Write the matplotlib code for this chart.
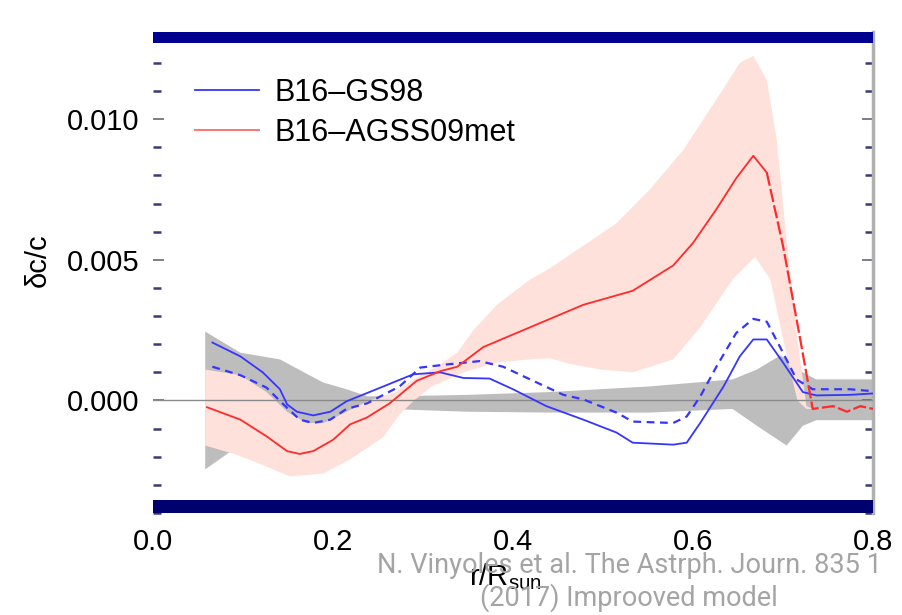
import numpy as np
import matplotlib
matplotlib.use("Agg")
import matplotlib.pyplot as plt
from matplotlib.ticker import MultipleLocator, FixedLocator

plt.rcParams['font.family'] = ['Liberation Sans', 'DejaVu Sans']
plt.rcParams['mathtext.fontset'] = 'custom'
plt.rcParams['mathtext.rm'] = 'Liberation Sans'
plt.rcParams['mathtext.it'] = 'Liberation Sans:italic'

# ---- data ----
gs98_x = [0.066, 0.097, 0.122, 0.141, 0.149, 0.160, 0.178, 0.197, 0.215, 0.256, 0.289, 0.319,
          0.345, 0.374, 0.400, 0.437, 0.478, 0.515, 0.533, 0.578, 0.593, 0.608, 0.634, 0.652,
          0.667, 0.682, 0.700, 0.722, 0.737, 0.774, 0.800]
gs98_y = [0.00206, 0.00157, 0.00100, 0.00040, -0.00014, -0.00040, -0.00053, -0.00040, -0.00003,
          0.00050, 0.00093, 0.00100, 0.00080, 0.00078, 0.00040, -0.00020, -0.00068, -0.00114,
          -0.00150, -0.00157, -0.00150, -0.00080, 0.00050, 0.00157, 0.00217, 0.00217, 0.00135,
          0.00030, 0.00018, 0.00020, 0.00025]

gs98b_x = [0.066, 0.097, 0.126, 0.145, 0.163, 0.178, 0.197, 0.215, 0.238, 0.274, 0.297, 0.326,
           0.363, 0.389, 0.419, 0.456, 0.478, 0.515, 0.533, 0.578, 0.593, 0.608, 0.626, 0.648,
           0.667, 0.682, 0.700, 0.715, 0.733, 0.774, 0.800]
gs98b_y = [0.00120, 0.00090, 0.00046, -0.00014, -0.00068, -0.00080, -0.00068, -0.00030, -0.00010,
           0.00050, 0.00117, 0.00128, 0.00140, 0.00120, 0.00075, 0.00020, 0.00004, -0.00043,
           -0.00075, -0.00080, -0.00057, 0.00014, 0.00120, 0.00240, 0.00290, 0.00280, 0.00170,
           0.00075, 0.00040, 0.00040, 0.00033]

agss_x = [0.060, 0.097, 0.126, 0.149, 0.163, 0.178, 0.200, 0.219, 0.238, 0.263, 0.293, 0.319,
          0.338, 0.367, 0.404, 0.441, 0.478, 0.500, 0.533, 0.578, 0.600, 0.626, 0.648, 0.667, 0.682]
agss_y = [-0.00024, -0.00068, -0.00127, -0.00180, -0.00190, -0.00180, -0.00140, -0.00085, -0.00060,
          -0.00010, 0.00070, 0.00104, 0.00120, 0.00190, 0.00240, 0.00290, 0.00340, 0.00360,
          0.00390, 0.00480, 0.00560, 0.00680, 0.00790, 0.00870, 0.00810]
agss_tail_x = [0.682, 0.700, 0.719, 0.733, 0.756, 0.771, 0.786, 0.800]
agss_tail_y = [0.00810, 0.00550, 0.00220, -0.00030, -0.00020, -0.00040, -0.00020, -0.00030]

pink_up_x = [0.058, 0.097, 0.126, 0.149, 0.170, 0.190, 0.215, 0.240, 0.270, 0.289, 0.315, 0.338,
             0.356, 0.382, 0.419, 0.441, 0.478, 0.515, 0.552, 0.589, 0.626, 0.652, 0.667, 0.682,
             0.693, 0.704, 0.716, 0.726, 0.733]
pink_up_y = [0.00110, 0.00090, 0.00030, -0.00040, -0.00080, -0.00080, -0.00040, 0.00000, 0.00030,
             0.00075, 0.00120, 0.00170, 0.00250, 0.00340, 0.00430, 0.00470, 0.00550, 0.00630,
             0.00750, 0.00890, 0.01070, 0.01200, 0.01225, 0.01140, 0.00930, 0.00570, 0.00220,
             -0.00020, -0.00030]
pink_lo_x = [0.058, 0.090, 0.115, 0.152, 0.189, 0.219, 0.256, 0.274, 0.290, 0.310, 0.345, 0.382,
             0.419, 0.441, 0.463, 0.497, 0.533, 0.578, 0.608, 0.644, 0.669, 0.686, 0.700, 0.716,
             0.726, 0.733]
pink_lo_y = [-0.00160, -0.00190, -0.00220, -0.00270, -0.00260, -0.00210, -0.00130, -0.00050, 0.00000,
             0.00050, 0.00100, 0.00135, 0.00146, 0.00150, 0.00130, 0.00110, 0.00100, 0.00146,
             0.00260, 0.00430, 0.00510, 0.00430, 0.00220, 0.00000, -0.00030, -0.00030]

gray_up_x = [0.058, 0.097, 0.141, 0.189, 0.215, 0.238, 0.270, 0.350, 0.441, 0.552, 0.644, 0.671,
             0.697, 0.708, 0.722, 0.737, 0.800]
gray_up_y = [0.00245, 0.00170, 0.00146, 0.00064, 0.00040, 0.00015, 0.00015, 0.00020, 0.00030,
             0.00050, 0.00075, 0.00110, 0.00160, 0.00140, 0.00100, 0.00075, 0.00075]
gray_lo_x = [0.058, 0.089, 0.120, 0.152, 0.180, 0.220, 0.260, 0.350, 0.441, 0.552, 0.644, 0.671,
             0.704, 0.722, 0.737, 0.800]
gray_lo_y = [-0.00245, -0.00175, -0.00120, -0.00090, -0.00090, -0.00050, -0.00030, -0.00040,
             -0.00043, -0.00043, -0.00030, -0.00090, -0.00160, -0.00090, -0.00070, -0.00070]

labels = ["B16\u2013GS98", "B16\u2013AGSS09met"]
xticks = [0.0, 0.2, 0.4, 0.6, 0.8]
yticks = [0.000, 0.005, 0.010]

# ---- figure ----
fig = plt.figure(figsize=(9.02, 6.15), dpi=100)
ax = fig.add_axes([153/902, 1-513/615, 720/902, 481/615])
ax.set_xlim(0.0, 0.8)
ax.set_ylim(-0.004, 0.0131)

ax.fill(np.concatenate([gray_up_x, gray_lo_x[::-1]]),
        np.concatenate([gray_up_y, gray_lo_y[::-1]]),
        color='#bdbdbd', lw=0, zorder=1)
ax.fill(np.concatenate([pink_up_x, pink_lo_x[::-1]]),
        np.concatenate([pink_up_y, pink_lo_y[::-1]]),
        color='#ffe1dc', lw=0, zorder=2)
ax.axhline(0.0, color='#8a8a8a', lw=1.0, zorder=3)

blue = '#3535ff'
red = '#ff2a2a'
l1, = ax.plot(gs98_x, gs98_y, color=blue, lw=1.3, zorder=5)
ax.plot(gs98b_x, gs98b_y, color=blue, lw=1.6, ls=(0, (3.5, 2.5)), zorder=5)
l2, = ax.plot(agss_x, agss_y, color=red, lw=1.3, zorder=5)
ax.plot(agss_tail_x, agss_tail_y, color=red, lw=1.6, ls=(0, (6, 1.5)), zorder=5)

# navy bands at top and bottom
ax.axhspan(0.0127, 0.0131, color='#00008f', zorder=6, lw=0)
ax.axhspan(-0.004, -0.00355, color='#00006e', zorder=6, lw=0)

for s in ['left', 'top', 'bottom']:
    ax.spines[s].set_visible(False)
ax.spines['right'].set_color('#b0b0b0')
ax.spines['right'].set_linewidth(2.5)

ax.xaxis.set_major_locator(FixedLocator(xticks))
ax.set_xticklabels([f"{v:.1f}" for v in xticks])
ax.yaxis.set_major_locator(FixedLocator(yticks))
ax.set_yticklabels([f"{v:.3f}" for v in yticks])
ax.yaxis.set_minor_locator(MultipleLocator(0.001))
ax.tick_params(axis='x', which='both', length=0, labelsize=21, pad=11)
ax.tick_params(axis='y', which='major', direction='in', length=8, width=1.2,
               color='#666677', labelsize=21, pad=10, right=True)
ax.tick_params(axis='y', which='minor', direction='in', length=6, width=1.8,
               color='#3a3a7a', right=True)

ax.set_ylabel("\u03b4c/c", fontsize=21)
ax.yaxis.set_label_coords(-0.140, 0.526)
ax.set_xlabel("r/R$_{\\mathrm{sun}}$", fontsize=21)
ax.xaxis.set_label_coords(0.489, -0.100)

leg = ax.legend([l1, l2], labels, loc='upper left', bbox_to_anchor=(0.058, 0.905),
                frameon=False, fontsize=22, handlelength=2.1, handletextpad=0.5,
                labelspacing=0.33, borderpad=0, borderaxespad=0)
leg.get_lines()[1].set_color('#ff6a6a')

fig.text(629/902, 1-582/615, "N. Vinyoles et al. The Astrph. Journ. 835 1\n(2017) Improoved model",
         ha='center', va='center', multialignment='center', fontsize=19.5,
         family=['Roboto', 'DejaVu Sans'], fontweight='normal', color='#a4a4a4',
         linespacing=1.2)

fig.savefig("out.png", dpi=100)
